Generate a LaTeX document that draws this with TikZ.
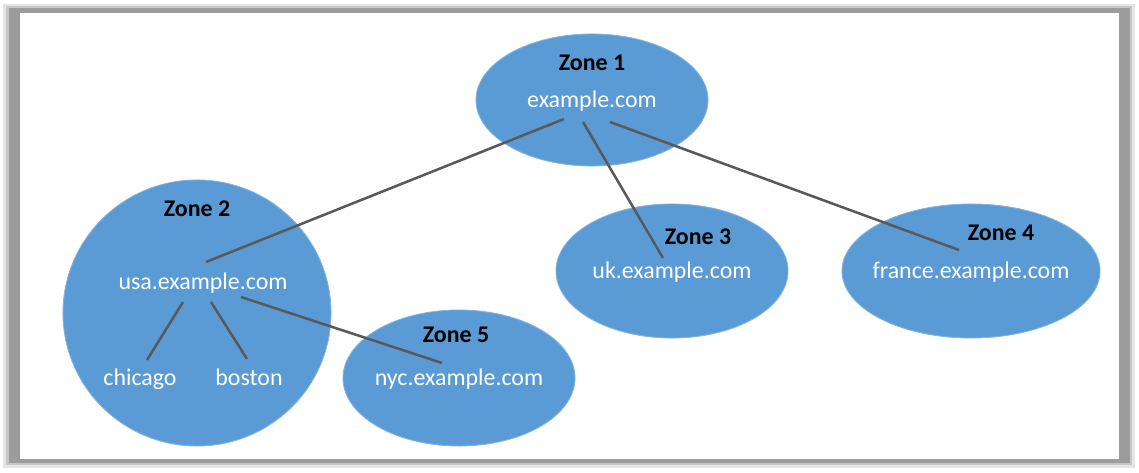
\documentclass[tikz,border=0pt]{standalone}
\usepackage{fontspec}
\setmainfont{Carlito}
\usepackage{xcolor}
\definecolor{zoneblue}{HTML}{5B9BD5}
\definecolor{linkgray}{HTML}{595959}
\definecolor{framegray}{HTML}{9C9C9C}
\usepackage{tikz}
\usetikzlibrary{positioning,shapes.geometric}

\begin{document}
\begin{tikzpicture}[x=0.025cm,y=0.025cm,
  zone/.style={ellipse,fill=zoneblue,draw=zoneblue!75!white,line width=0.6pt,inner sep=0pt},
  title/.style={font=\fontsize{17}{20}\selectfont\bfseries,text=black},
  host/.style={font=\fontsize{17}{20}\selectfont,text=white},
  link/.style={draw=linkgray,line width=1.8pt}
]
\useasboundingbox (0,0) rectangle (1139,473);
% framed sheet with shadow
\fill[black!10] (3,5) rectangle (1135,469);
\fill[black!22] (6,8) rectangle (1132,467);
\fill[framegray] (9,10) rectangle (1130,465);
\fill[white] (20,14) rectangle (1119,460);
% zones
\node[zone,minimum width=5.8cm,minimum height=3.3cm] (zone1) at (592,373) {};
\node[zone,minimum width=6.7cm,minimum height=6.65cm] (zone2) at (197,160) {};
\node[zone,minimum width=5.8cm,minimum height=3.35cm] (zone3) at (672,202) {};
\node[zone,minimum width=6.45cm,minimum height=3.35cm] (zone4) at (971,202) {};
\node[zone,minimum width=5.8cm,minimum height=3.4cm] (zone5) at (459,95) {};
% labels
\node[title] (t1) at (592,410) {Zone 1};
\node[host] (apex) at (592,372) {example.com};
\node[title] (t2) at (197,264) {Zone 2};
\node[host] (usa) at (203,190) {usa.example.com};
\node[host] (chicago) at (140,94) {chicago};
\node[host] (boston) at (249,96) {boston};
\node[title] (t3) at (698,236) {Zone 3};
\node[host] (uk) at (672,201) {uk.example.com};
\node[title] (t4) at (1001,240) {Zone 4};
\node[host] (france) at (971,201) {france.example.com};
\node[title] (t5) at (456,138) {Zone 5};
\node[host] (nyc) at (459,94) {nyc.example.com};
% delegations
\draw[link] ([shift={(-28,-18)}]apex.center) -- ([shift={(3,21)}]usa.center);
\draw[link] ([shift={(-9,-21)}]apex.center) -- ([shift={(-9,14)}]uk.center);
\draw[link] ([shift={(18,-21)}]apex.center) -- ([shift={(-12,22)}]france.center);
\draw[link] ([shift={(-20,-19)}]usa.center) -- ([shift={(7,19)}]chicago.center);
\draw[link] ([shift={(8,-19)}]usa.center) -- ([shift={(-2,18)}]boston.center);
\draw[link] ([shift={(38,-14)}]usa.center) -- ([shift={(-17,16)}]nyc.center);
\end{tikzpicture}
\end{document}
